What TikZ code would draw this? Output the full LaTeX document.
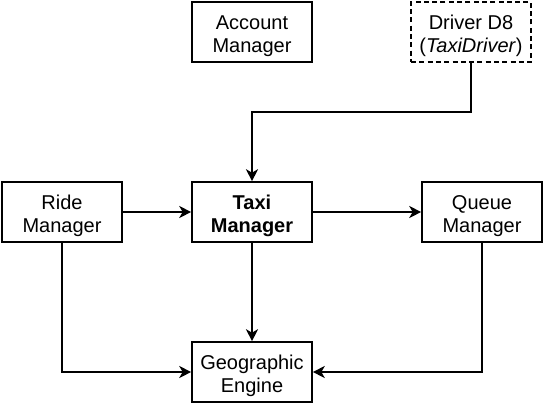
\documentclass[tikz,border=0pt]{standalone}
\usepackage{fontspec}
\setmainfont{Liberation Sans}
\usetikzlibrary{arrows.meta}
\begin{document}
\begin{tikzpicture}[x=1pt,y=-1pt,
  boxtext/.style={align=center,inner sep=0pt,yshift=-4pt,font=\fontsize{20}{23}\selectfont},
  box/.style={draw,line width=1.6pt,minimum width=120pt,minimum height=60pt,inner sep=0pt,
    label={[boxtext]center:#1}},
  dashbox/.style={box=#1,dash pattern=on 5pt off 3.3pt},
  conn/.style={line width=2pt,-{Stealth[length=12pt,width=12pt,inset=3.5pt]}}]
\useasboundingbox (0,0) rectangle (543,404);
\node[box={Account\\Manager}] (acc) at (252,32) {};
\node[dashbox={Driver D8\\(\textit{TaxiDriver})}] (drv) at (471,32) {};
\node[box={Ride\\Manager}] (ride) at (62,212) {};
\node[box={\textbf{Taxi}\\\textbf{Manager}}] (taxi) at (252,212) {};
\node[box={Queue\\Manager}] (queue) at (482,212) {};
\node[box={Geographic\\Engine}] (geo) at (252,372) {};
\coordinate (c1) at (471,112);
\coordinate (c2) at (252,112);
\draw[conn] (drv.south) -- (c1) -- (c2) -- (taxi.north);
\draw[conn] (ride.east) -- (taxi.west);
\draw[conn] (taxi.east) -- (queue.west);
\draw[conn] (taxi.south) -- (geo.north);
\draw[conn] (ride.south) |- (geo.west);
\draw[conn] (queue.south) |- (geo.east);
\end{tikzpicture}
\end{document}
